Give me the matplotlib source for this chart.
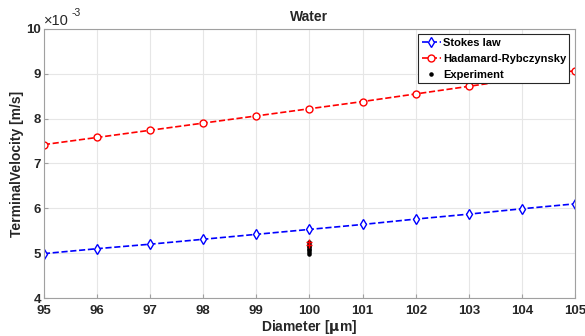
import matplotlib
matplotlib.use("Agg")
import matplotlib.pyplot as plt
import numpy as np

plt.rcParams['font.family'] = ['Liberation Sans', 'DejaVu Sans']
plt.rcParams['font.weight'] = 'bold'

# Data (velocities in units of 1e-3 m/s)
diameter = [95, 96, 97, 98, 99, 100, 101, 102, 103, 104, 105]
stokes = [4.99, 5.10, 5.20, 5.31, 5.42, 5.53, 5.64, 5.76, 5.87, 5.99, 6.10]
hadamard = [7.42, 7.58, 7.74, 7.90, 8.06, 8.22, 8.38, 8.55, 8.72, 8.89, 9.07]
exp_diameter = [100, 100, 100, 100, 100, 100, 100, 100]
exp_velocity = [4.98, 5.02, 5.06, 5.10, 5.13, 5.17, 5.21, 5.25]
exp_red_velocity = [5.19, 5.24]
y_ticks = [4, 5, 6, 7, 8, 9, 10]

fig = plt.figure(figsize=(5.85, 3.36), dpi=100)
ax = fig.add_axes([0.075, 0.113, 0.908, 0.801])

ax.plot(diameter, stokes, '--', color='blue', marker='d',
        markerfacecolor='white', markeredgecolor='blue', markersize=5,
        linewidth=1.2, label='Stokes law')
ax.plot(diameter, hadamard, '--', color='red', marker='o',
        markerfacecolor='white', markeredgecolor='red', markersize=5,
        linewidth=1.2, label='Hadamard-Rybczynsky')
ax.plot(exp_diameter, exp_velocity, '.', color='black',
        markersize=4.5, linestyle='none', label='Experiment')
ax.plot([100] * len(exp_red_velocity), exp_red_velocity, '+',
        color='red', markersize=4, linestyle='none')

ax.set_xlim(95, 105)
ax.set_ylim(4, 10)
ax.set_xticks(diameter)
ax.set_yticks(y_ticks)

# exponent label like MATLAB's
ax.text(0.0, 1.005, '\u00d710', transform=ax.transAxes, fontsize=10.5,
        fontweight='normal', color='#262626', ha='left', va='bottom')
ax.text(0.052, 1.04, '-3', transform=ax.transAxes, fontsize=7.5,
        fontweight='normal', color='#262626', ha='left', va='bottom')

ax.grid(True, color='#e6e6e6', linewidth=0.8)
ax.set_axisbelow(True)
for spine in ax.spines.values():
    spine.set_color('#a0a0a0')
    spine.set_linewidth(0.8)
ax.tick_params(direction='in', length=3, colors='#a0a0a0', labelcolor='#262626',
               labelsize=9.5)
ax.tick_params(axis='y', pad=2)
ax.tick_params(axis='x', pad=5)
for lbl in ax.get_xticklabels() + ax.get_yticklabels():
    lbl.set_fontweight('bold')

ax.set_title('Water', fontsize=10, fontweight='bold', color='#262626', pad=6)
ax.set_xlabel('Diameter [$\\mathbf{\\mu}$m]', fontsize=10, fontweight='bold',
              color='#262626', labelpad=1)
ax.set_ylabel('TerminalVelocity [m/s]', fontsize=10, fontweight='bold',
              color='#262626')
ax.yaxis.set_label_coords(-0.038, 0.5)

leg = ax.legend(loc='upper right', fontsize=8, fancybox=False, framealpha=1,
                edgecolor='#262626', borderpad=0.3, labelspacing=0.55,
                handlelength=1.7, handletextpad=0.2, borderaxespad=0.5)
leg.get_frame().set_linewidth(0.8)
for t in leg.get_texts():
    t.set_fontweight('bold')

fig.savefig('out.png', dpi=100)
